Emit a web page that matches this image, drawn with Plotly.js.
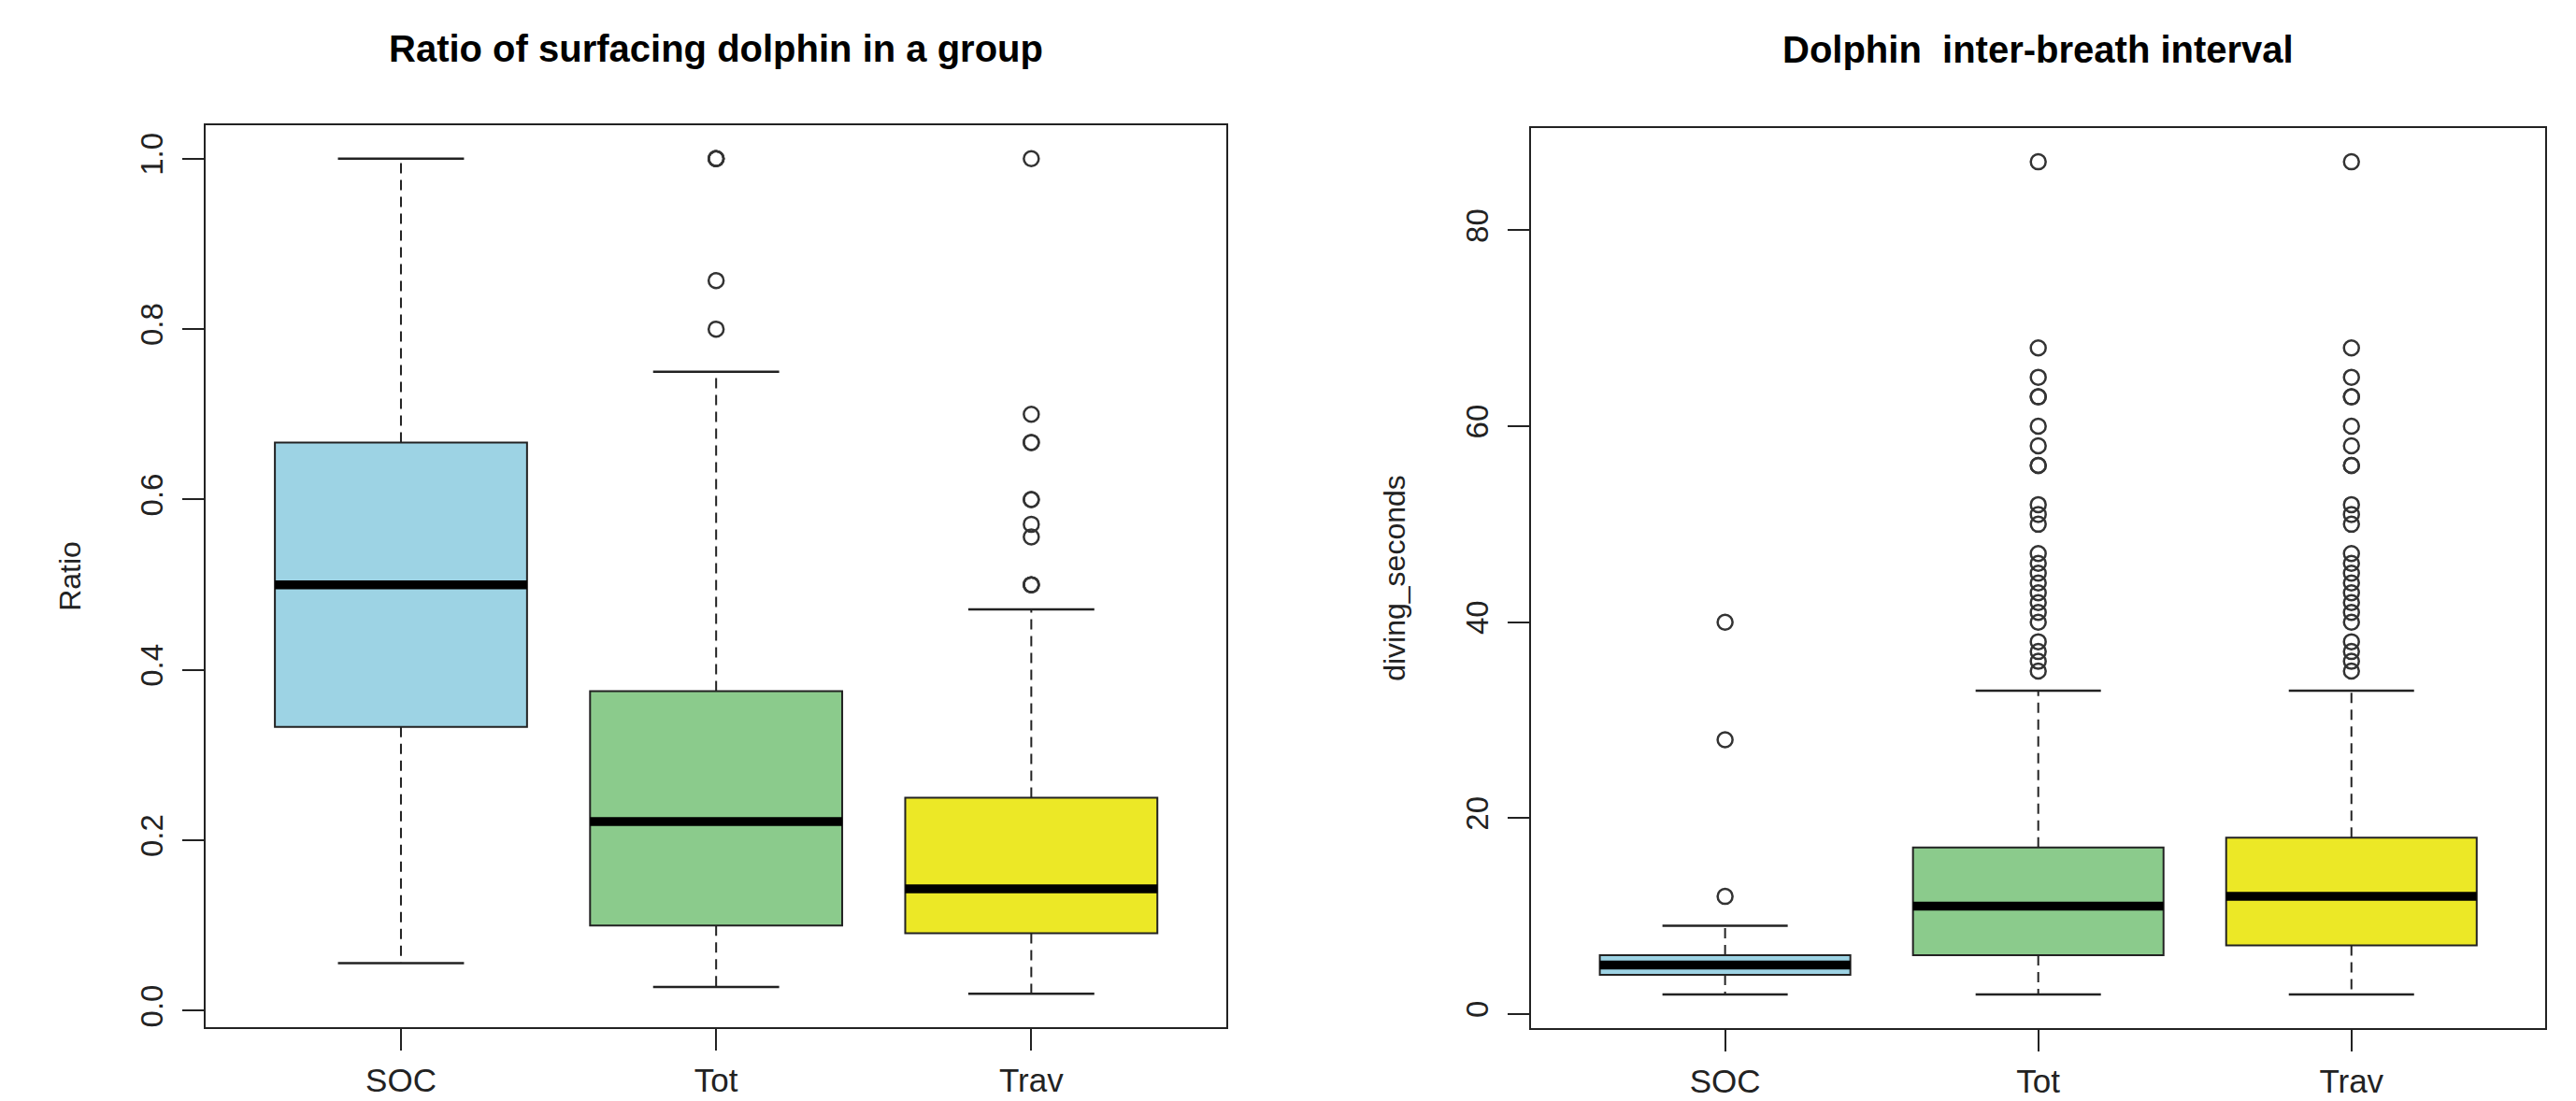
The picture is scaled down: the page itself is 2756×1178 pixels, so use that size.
<!DOCTYPE html>
<html>
<head>
<meta charset="utf-8">
<script src="https://cdn.plot.ly/plotly-3.0.1.min.js"></script>
<style>
html,body{margin:0;padding:0;background:#fff;}
#chart{width:2756px;height:1178px;}
</style>
</head>
<body>
<div id="chart"></div>
<script>
// ---------- data ----------
const categories = ["SOC", "Tot", "Trav"];
const boxColors = ["#9DD3E4", "#8BCB8C", "#ECE826"];

// Left panel: Ratio of surfacing dolphin in a group
const ratioLower  = [0.056, 0.028, 0.020];
const ratioQ1     = [0.333, 0.100, 0.091];
const ratioMedian = [0.500, 0.222, 0.143];
const ratioQ3     = [0.667, 0.375, 0.250];
const ratioUpper  = [1.000, 0.750, 0.471];
const ratioOutSOC  = [];
const ratioOutTot  = [1.0, 1.0, 1.0, 0.857, 0.8];
const ratioOutTrav = [1.0, 0.7, 0.667, 0.667, 0.6, 0.6, 0.571, 0.556, 0.5, 0.5, 0.5];

// Right panel: Dolphin inter-breath interval (diving_seconds)
const diveLower  = [2, 2, 2];
const diveQ1     = [4, 6, 7];
const diveMedian = [5, 11, 12];
const diveQ3     = [6, 17, 18];
const diveUpper  = [9, 33, 33];
const diveOutSOC  = [12, 28, 40];
const diveOutTot  = [87, 68, 65, 63, 63, 60, 58, 56, 56, 52, 51, 50, 47, 46, 45, 44, 43, 42, 41, 40, 38, 37, 36, 35];
const diveOutTrav = [87, 68, 65, 63, 63, 60, 58, 56, 56, 52, 51, 50, 47, 46, 45, 44, 43, 42, 41, 40, 38, 37, 36, 35];

// ---------- styles ----------
const BOXW = 0.8;      // box width (category units)
const CAPW = 0.4;      // whisker cap width
const ink = "#222222";
const FONT = "'Liberation Sans', Arial, Helvetica, sans-serif";

function panelTraces(xa, ya, lower, q1, med, q3, upper, outs) {
  const traces = [];
  const pos = categories.map((c, i) => i + 1);
  // boxes
  pos.forEach((p, i) => {
    traces.push({
      type: "box", xaxis: xa, yaxis: ya, name: categories[i],
      x: [p], q1: [q1[i]], median: [med[i]], q3: [q3[i]],
      lowerfence: [q1[i]], upperfence: [q3[i]],
      width: BOXW, whiskerwidth: 0, boxpoints: false,
      fillcolor: boxColors[i], line: {color: ink, width: 2},
      showlegend: false, hoverinfo: "skip"
    });
  });
  // dashed whiskers
  const wx = [], wy = [];
  pos.forEach((p, i) => {
    wx.push(p, p, null, p, p, null);
    wy.push(q3[i], upper[i], null, q1[i], lower[i], null);
  });
  traces.push({type: "scatter", mode: "lines", xaxis: xa, yaxis: ya, x: wx, y: wy,
    line: {color: ink, width: 2, dash: "11px,7px"}, showlegend: false, hoverinfo: "skip"});
  // caps
  const cx = [], cy = [];
  pos.forEach((p, i) => {
    cx.push(p - CAPW / 2, p + CAPW / 2, null, p - CAPW / 2, p + CAPW / 2, null);
    cy.push(upper[i], upper[i], null, lower[i], lower[i], null);
  });
  traces.push({type: "scatter", mode: "lines", xaxis: xa, yaxis: ya, x: cx, y: cy,
    line: {color: ink, width: 2.5}, showlegend: false, hoverinfo: "skip"});
  // thick medians
  const mx = [], my = [];
  pos.forEach((p, i) => {
    mx.push(p - BOXW / 2, p + BOXW / 2, null);
    my.push(med[i], med[i], null);
  });
  traces.push({type: "scatter", mode: "lines", xaxis: xa, yaxis: ya, x: mx, y: my,
    line: {color: "#000", width: 9.5}, showlegend: false, hoverinfo: "skip"});
  // outliers
  outs.forEach((arr, i) => {
    if (!arr.length) return;
    traces.push({type: "scatter", mode: "markers", xaxis: xa, yaxis: ya,
      x: arr.map(() => pos[i]), y: arr,
      marker: {symbol: "circle-open", size: 16, color: "#333", line: {width: 2.5, color: "#333"}},
      showlegend: false, hoverinfo: "skip"});
  });
  return traces;
}

const data = [].concat(
  panelTraces("x", "y", ratioLower, ratioQ1, ratioMedian, ratioQ3, ratioUpper,
              [ratioOutSOC, ratioOutTot, ratioOutTrav]),
  panelTraces("x2", "y2", diveLower, diveQ1, diveMedian, diveQ3, diveUpper,
              [diveOutSOC, diveOutTot, diveOutTrav])
);

const xCommon = {
  range: [0.38, 3.62], tickmode: "array", tickvals: [1, 2, 3], ticktext: categories,
  showline: true, mirror: true, linecolor: ink, linewidth: 2,
  ticks: "outside", ticklen: 23, tickwidth: 2, tickcolor: ink,
  showgrid: false, zeroline: false, fixedrange: true,
  tickfont: {family: FONT, size: 35, color: ink}, ticklabelstandoff: 2
};
const yCommon = {
  showline: true, mirror: true, linecolor: ink, linewidth: 2,
  ticks: "outside", ticklen: 23, tickwidth: 2, tickcolor: ink,
  showgrid: false, zeroline: false, fixedrange: true, tickangle: -90,
  tickfont: {family: FONT, size: 33, color: ink}, ticklabelstandoff: 8,
  automargin: true
};

const layout = {
  width: 2756, height: 1178,
  margin: {l: 0, r: 0, t: 0, b: 0, pad: 0},
  paper_bgcolor: "#fff", plot_bgcolor: "#fff",
  showlegend: false, boxmode: "overlay",
  xaxis: Object.assign({}, xCommon, {domain: [0.0798, 0.4762], anchor: "y"}),
  yaxis: Object.assign({}, yCommon, {domain: [0.0671, 0.8862], anchor: "x",
    range: [-0.0192, 1.0392], tickvals: [0, 0.2, 0.4, 0.6, 0.8, 1.0], tickformat: ".1f",
    title: {text: "Ratio", font: {family: FONT, size: 32, color: ink}, standoff: 48}}),
  xaxis2: Object.assign({}, xCommon, {domain: [0.5943, 0.9882], anchor: "y2"}),
  yaxis2: Object.assign({}, yCommon, {domain: [0.0666, 0.8833], anchor: "x2",
    range: [-1.4, 90.4], tickvals: [0, 20, 40, 60, 80],
    title: {text: "diving_seconds", font: {family: FONT, size: 32, color: ink}, standoff: 48}}),
  annotations: [
    {text: "<b>Ratio of surfacing dolphin in a group</b>", xref: "paper", yref: "paper",
     x: 0.2780, y: 1 - 52 / 1178, xanchor: "center", yanchor: "middle", showarrow: false,
     font: {family: FONT, size: 40, color: "#000"}},
    {text: "<b>Dolphin  inter-breath interval</b>", xref: "paper", yref: "paper",
     x: 0.7912, y: 1 - 53 / 1178, xanchor: "center", yanchor: "middle", showarrow: false,
     font: {family: FONT, size: 40, color: "#000"}}
  ]
};

Plotly.newPlot("chart", data, layout, {staticPlot: true, displayModeBar: false});
</script>
</body>
</html>
